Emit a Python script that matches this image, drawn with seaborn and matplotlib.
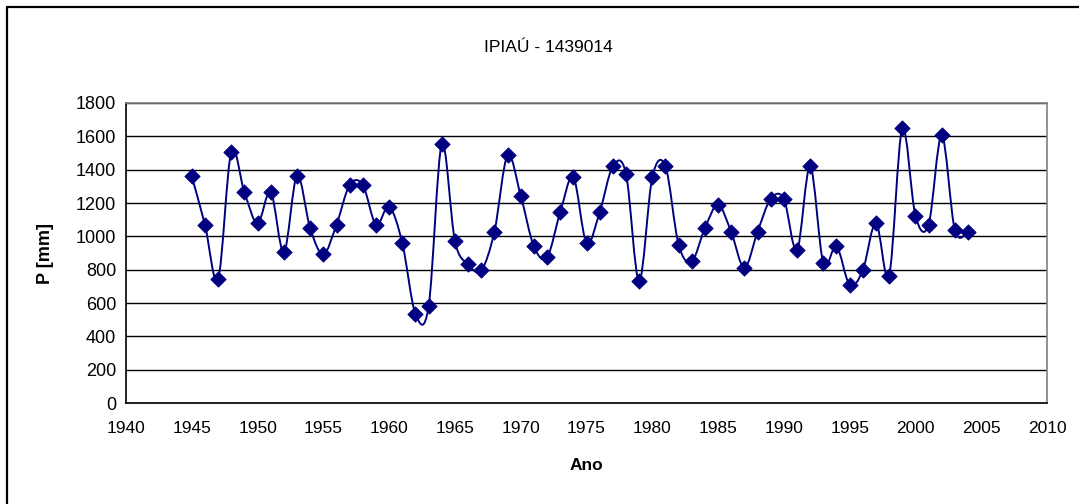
import numpy as np
import matplotlib
matplotlib.use("Agg")
import matplotlib.pyplot as plt
from matplotlib.path import Path
from matplotlib.patches import PathPatch
from matplotlib.lines import Line2D
import seaborn as sns


# ─── Data (annual precipitation) ──────────────────────────────────────────────
years = list(range(1945, 2005))
precip = [
    1360, 1070, 742, 1508, 1264, 1078, 1266, 904, 1364, 1048,
    892, 1070, 1308, 1308, 1070, 1178, 960, 534, 580, 1552,
    972, 832, 796, 1028, 1486, 1244, 940, 874, 1144, 1354,
    960, 1144, 1420, 1376, 732, 1354, 1420, 950, 850, 1050,
    1190, 1026, 810, 1028, 1224, 1224, 916, 1420, 840, 940,
    710, 796, 1082, 764, 1648, 1124, 1070, 1606, 1036, 1026,
]
x_ticks = list(range(1940, 2011, 5))
y_ticks = list(range(0, 1801, 200))

TITLE  = "IPIAÚ - 1439014"
XLABEL = "Ano"
YLABEL = "P [mm]"
NAVY   = "#000080"


# ─── Excel-style smoothed line as a Bezier path ───────────────────────────────
def smooth_path(xs, ys):
    pts = np.column_stack([xs, ys]).astype(float)
    n = len(pts)
    verts = [pts[0]]
    codes = [Path.MOVETO]
    for i in range(n - 1):
        p0 = pts[i - 1] if i > 0 else pts[i]
        p1 = pts[i]
        p2 = pts[i + 1]
        p3 = pts[i + 2] if i + 2 < n else pts[i + 1]
        c1 = p1 + (p2 - p0) / 6.0
        c2 = p2 - (p3 - p1) / 6.0
        verts += [c1, c2, p2]
        codes += [Path.CURVE4] * 3
    return Path(verts, codes)


sns.set_theme(style="white")
plt.rcParams["font.family"] = ["Liberation Sans", "DejaVu Sans"]

fig = plt.figure(figsize=(10.79, 5.04), dpi=100)
ax = fig.add_axes([126 / 1079, 101 / 504, 921 / 1079, 300 / 504])

ax.add_patch(PathPatch(smooth_path(years, precip), facecolor="none",
                       edgecolor=NAVY, lw=1.4, zorder=3))
sns.scatterplot(x=years, y=precip, ax=ax, marker="D", s=62,
                color=NAVY, edgecolor=NAVY, linewidth=0.5, zorder=4)

ax.set_xlim(1940, 2010)
ax.set_ylim(0, 1800)
ax.set_xticks(x_ticks)
ax.set_yticks(y_ticks)
ax.yaxis.grid(True, color="black", lw=1.0, zorder=1)
ax.xaxis.grid(False)
ax.set_axisbelow(True)

ax.tick_params(axis="both", direction="out", length=5, width=1,
               color="black", labelsize=12.5, labelcolor="black", pad=4)
ax.tick_params(axis="x", pad=8)
ax.tick_params(axis="y", pad=2, labelsize=13)

for side in ["left", "bottom"]:
    ax.spines[side].set_color("black")
    ax.spines[side].set_linewidth(1.2)
for side in ["top", "right"]:
    ax.spines[side].set_color("#808080")
    ax.spines[side].set_linewidth(1.2)
ax.set_xlabel("")
ax.set_ylabel("")

# titles and axis labels at their places in the chart area
fig.text(548 / 1079, 1 - 47 / 504, TITLE, ha="center", va="center",
         fontsize=12.5, color="black")
fig.text(586 / 1079, 1 - 466 / 504, XLABEL, ha="center", va="center",
         fontsize=12.5, fontweight="bold", color="black")
fig.text(45 / 1079, 1 - 253 / 504, YLABEL, ha="center", va="center",
         rotation=90, fontsize=13, fontweight="bold", color="black")

# chart-area frame (left and top edges visible)
fig.add_artist(Line2D([7 / 1079, 7 / 1079], [0, 1 - 7 / 504],
                      transform=fig.transFigure, color="black", lw=1.6))
fig.add_artist(Line2D([7 / 1079, 1], [1 - 7 / 504, 1 - 7 / 504],
                      transform=fig.transFigure, color="black", lw=1.6))

fig.savefig("out.png", dpi=100)
plt.close(fig)
